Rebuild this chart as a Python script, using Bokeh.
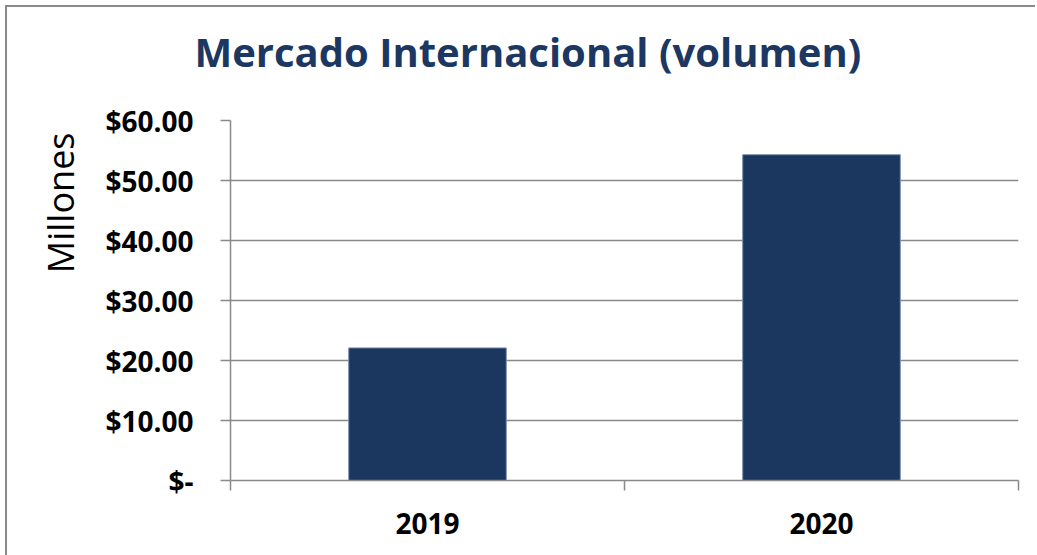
from bokeh.plotting import figure
from bokeh.models import Range1d, FixedTicker, Title, LinearAxis
from bokeh.embed import file_html
from bokeh.resources import INLINE

# ---- data ----
title_text = "Mercado Internacional (volumen)"
y_title = "Millones"
years = ["2019", "2020"]
values = [22.1, 54.3]
y_ticks = [0, 10, 20, 30, 40, 50, 60]
y_tick_labels = ["$-", "$10.00", "$20.00", "$30.00", "$40.00", "$50.00", "$60.00"]

# ---- styles ----
BAR = "#1b3760"
TITLE = "#1c3761"
GRID = "#898989"
FONT = "Open Sans"

xs = [i + 0.5 for i in range(len(years))]
bounds = list(range(len(years) + 1))

p = figure(
    frame_width=788, frame_height=360,
    x_range=Range1d(0, len(years)), y_range=Range1d(y_ticks[0], y_ticks[-1]),
    output_backend="svg", toolbar_location=None,
    min_border_left=223, min_border_right=17, min_border_top=113, min_border_bottom=75,
)
p.styles = {
    "margin-left": "5px", "margin-top": "5px", "margin-bottom": "-30px",
    "border-left": "2px solid #8a8a8a", "border-top": "2px solid #8a8a8a",
}
p.outline_line_color = None
p.background_fill_color = "white"
p.border_fill_color = "white"

p.vbar(x=xs, top=values, width=0.4, fill_color=BAR, line_color="#7f93ae", line_width=1)

# grid
p.xgrid.visible = False
p.ygrid.grid_line_color = GRID
p.ygrid.grid_line_width = 1.5

# y axis
p.yaxis.ticker = FixedTicker(ticks=y_ticks)
p.yaxis.major_label_overrides = {t: l for t, l in zip(y_ticks, y_tick_labels)}
p.yaxis.axis_line_color = GRID
p.yaxis.axis_line_width = 1.5
p.yaxis.major_tick_line_color = GRID
p.yaxis.major_tick_line_width = 1.5
p.yaxis.major_tick_out = 10
p.yaxis.major_tick_in = 0
p.yaxis.minor_tick_line_color = None
p.yaxis.major_label_standoff = 27
p.yaxis.major_label_text_font = FONT
p.yaxis.major_label_text_font_style = "bold"
p.yaxis.major_label_text_font_size = "28px"
p.yaxis.major_label_text_color = "black"

# x axis
p.xaxis.ticker = FixedTicker(ticks=xs, minor_ticks=bounds)
p.xaxis.major_label_overrides = {x: y for x, y in zip(xs, years)}
p.xaxis.axis_line_color = GRID
p.xaxis.axis_line_width = 1.5
p.xaxis.major_tick_line_color = None
p.xaxis.major_tick_out = 0
p.xaxis.major_tick_in = 0
p.xaxis.minor_tick_line_color = GRID
p.xaxis.minor_tick_line_width = 1.5
p.xaxis.minor_tick_out = 10
p.xaxis.minor_tick_in = 0
p.xaxis.major_label_standoff = 22
p.xaxis.major_label_text_font = FONT
p.xaxis.major_label_text_font_style = "bold"
p.xaxis.major_label_text_font_size = "28px"
p.xaxis.major_label_text_color = "black"

# invisible spacer between frame and title (one white tick, blank label)
spacer = LinearAxis(
    ticker=FixedTicker(ticks=[bounds[0]]), axis_line_color=None,
    major_tick_line_color="white", minor_tick_line_color=None,
    major_tick_out=23, major_tick_in=0, minor_tick_out=0,
    major_label_standoff=0, major_label_text_font_size="1px",
    major_label_text_color="white",
)
spacer.major_label_overrides = {bounds[0]: " "}
p.add_layout(spacer, "above")

# title
p.add_layout(Title(
    text=title_text, align="left", offset=-36, vertical_align="bottom", standoff=29,
    text_font=FONT, text_font_style="bold", text_font_size="40px", text_color=TITLE,
), "above")

# y axis title (placed at top of left side)
p.add_layout(Title(
    text=y_title, align="right", offset=12, vertical_align="bottom", standoff=36,
    text_font=FONT, text_font_style="normal", text_font_size="36px", text_color="black",
), "left")

open("out.html", "w").write(file_html(p, INLINE))
